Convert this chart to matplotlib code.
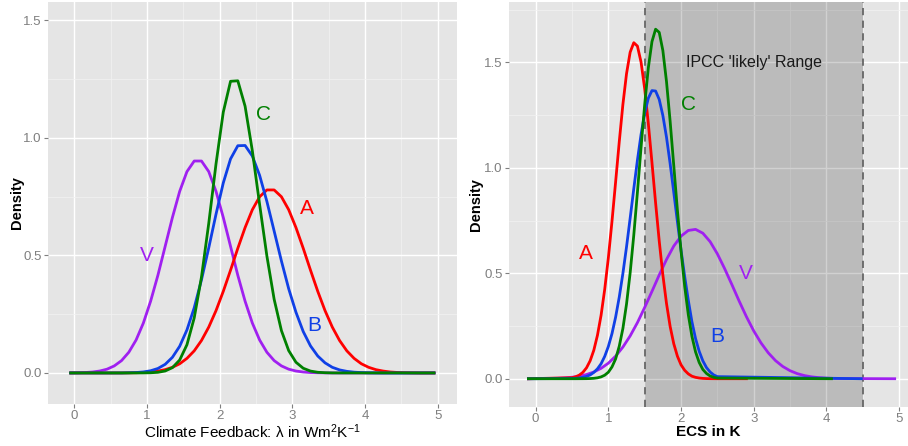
import numpy as np
import matplotlib
matplotlib.use("Agg")
import matplotlib.pyplot as plt
from matplotlib.ticker import MultipleLocator

plt.rcParams['font.family'] = ['Liberation Sans', 'DejaVu Sans']
plt.rcParams['mathtext.fontset'] = 'custom'
plt.rcParams['mathtext.rm'] = 'Liberation Sans'
plt.rcParams['mathtext.it'] = 'Liberation Sans:italic'

# ---- left panel: climate feedback lambda, density read at 0.1 steps ----
lam = [-0.05, 0.05, 0.15, 0.25, 0.35, 0.45, 0.55, 0.65, 0.75, 0.85,
       0.95, 1.05, 1.15, 1.25, 1.35, 1.45, 1.55, 1.65, 1.75, 1.85,
       1.95, 2.05, 2.15, 2.25, 2.35, 2.45, 2.55, 2.65, 2.75, 2.85,
       2.95, 3.05, 3.15, 3.25, 3.35, 3.45, 3.55, 3.65, 3.75, 3.85,
       3.95, 4.05, 4.15, 4.25, 4.35, 4.45, 4.55, 4.65, 4.75, 4.85, 4.95]

lam_A = [0, 0, 0, 0, 0, 0, 0, 0, 0.0005, 0.001,
         0.002, 0.004, 0.008, 0.014, 0.024, 0.039, 0.062, 0.094, 0.138, 0.195,
         0.265, 0.347, 0.437, 0.530, 0.618, 0.694, 0.749, 0.778, 0.778, 0.749,
         0.694, 0.618, 0.530, 0.437, 0.347, 0.265, 0.195, 0.138, 0.094, 0.062,
         0.039, 0.024, 0.014, 0.008, 0.004, 0.002, 0.001, 0.0005, 0, 0, 0]
lam_B = [0, 0, 0, 0, 0, 0, 0, 0, 0.0008, 0.0018,
         0.0043, 0.0093, 0.019, 0.0366, 0.0665, 0.1135, 0.183, 0.277, 0.396, 0.532,
         0.675, 0.808, 0.910, 0.966, 0.967, 0.922, 0.840, 0.729, 0.603, 0.476,
         0.358, 0.258, 0.176, 0.115, 0.072, 0.043, 0.024, 0.013, 0.0068, 0.0033,
         0.0016, 0.0007, 0.0003, 0, 0, 0, 0, 0, 0, 0, 0]
lam_C = [0, 0, 0, 0, 0, 0, 0, 0, 0, 0,
         0.0002, 0.0008, 0.0027, 0.0083, 0.0226, 0.055, 0.120, 0.234, 0.408, 0.636,
         0.889, 1.109, 1.240, 1.242, 1.134, 0.944, 0.716, 0.497, 0.313, 0.180,
         0.095, 0.0455, 0.020, 0.008, 0.0029, 0.001, 0.0002, 0, 0, 0,
         0, 0, 0, 0, 0, 0, 0, 0, 0, 0, 0]
lam_V = [0.0003, 0.0008, 0.0018, 0.004, 0.0082, 0.016, 0.030, 0.0525, 0.088, 0.140,
         0.212, 0.305, 0.415, 0.538, 0.661, 0.772, 0.856, 0.901, 0.901, 0.856,
         0.772, 0.661, 0.538, 0.415, 0.305, 0.212, 0.140, 0.088, 0.0525, 0.030,
         0.016, 0.0082, 0.004, 0.0018, 0.0008, 0.0003, 0, 0, 0, 0,
         0, 0, 0, 0, 0, 0, 0, 0, 0, 0, 0]

# ---- right panel: ECS densities ----
ecs = [0.50, 0.55, 0.60, 0.65, 0.70, 0.75, 0.80, 0.85, 0.90, 0.95,
       1.00, 1.05, 1.10, 1.15, 1.20, 1.25, 1.30, 1.35, 1.40, 1.45,
       1.50, 1.55, 1.60, 1.65, 1.70, 1.75, 1.80, 1.85, 1.90, 1.95,
       2.00, 2.05, 2.10, 2.15, 2.20, 2.25, 2.30, 2.35, 2.40, 2.45, 2.50]
ecs_A = [0.0048, 0.0093, 0.0171, 0.0304, 0.052, 0.0855, 0.135, 0.206, 0.301, 0.424,
         0.573, 0.746, 0.933, 1.123, 1.300, 1.446, 1.548, 1.593, 1.577, 1.501,
         1.375, 1.210, 1.025, 0.834, 0.653, 0.492, 0.357, 0.248, 0.166, 0.107,
         0.066, 0.040, 0.023, 0.012, 0.0066, 0.0034, 0.0016, 0.0007, 0.0003, 0.0001, 0]
ecs_B = [0.0011, 0.002, 0.0037, 0.0065, 0.011, 0.018, 0.030, 0.047, 0.071, 0.106,
         0.153, 0.214, 0.292, 0.387, 0.499, 0.625, 0.761, 0.901, 1.036, 1.158,
         1.259, 1.330, 1.366, 1.364, 1.324, 1.248, 1.145, 1.020, 0.884, 0.745,
         0.610, 0.485, 0.372, 0.270, 0.190, 0.130, 0.085, 0.053, 0.032, 0.018, 0.010]
ecs_C = [0, 0, 0.0001, 0.0002, 0.0004, 0.0009, 0.002, 0.0043, 0.0087, 0.0168,
         0.031, 0.056, 0.094, 0.154, 0.238, 0.354, 0.502, 0.681, 0.884, 1.096,
         1.300, 1.474, 1.598, 1.657, 1.642, 1.556, 1.409, 1.221, 1.011, 0.800,
         0.606, 0.439, 0.304, 0.201, 0.127, 0.077, 0.044, 0.025, 0.013, 0.0066, 0.0032]

ecs_v = [0.3, 0.4, 0.5, 0.6, 0.7, 0.8, 0.9, 1.0, 1.1, 1.2,
         1.3, 1.4, 1.5, 1.6, 1.7, 1.8, 1.9, 2.0, 2.1, 2.2,
         2.3, 2.4, 2.5, 2.6, 2.7, 2.8, 2.9, 3.0, 3.1, 3.2,
         3.3, 3.4, 3.5, 3.6, 3.7, 3.8, 3.9, 4.0, 4.1, 4.2]
ecs_V = [0.0022, 0.0040, 0.0071, 0.0120, 0.0199, 0.0319, 0.0493, 0.0738, 0.107, 0.150,
         0.203, 0.266, 0.338, 0.414, 0.492, 0.565, 0.629, 0.676, 0.703, 0.708,
         0.690, 0.650, 0.592, 0.522, 0.446, 0.368, 0.294, 0.227, 0.170, 0.123,
         0.0859, 0.0581, 0.0381, 0.0241, 0.0148, 0.0088, 0.0050, 0.0028, 0.0015, 0.0008]

# where each ECS density line starts / ends at zero
ecs_start = -0.1
ecs_end = {'A': 2.9, 'B': 4.48, 'C': 4.07, 'V': 4.94}

ipcc_range = (1.5, 4.5)

colors = {'A': '#ff0000', 'B': '#1040e6', 'C': '#008000', 'V': '#a020f0'}

# label positions
lab_left = {'A': (3.20, 0.70), 'B': (3.30, 0.20), 'C': (2.60, 1.10), 'V': (1.00, 0.50)}
lab_right = {'A': (0.69, 0.595), 'B': (2.50, 0.20), 'C': (2.10, 1.30), 'V': (2.89, 0.50)}


def style_ax(ax):
    ax.set_facecolor('#e5e5e5')
    for s in ax.spines.values():
        s.set_visible(False)
    ax.xaxis.set_major_locator(MultipleLocator(1))
    ax.xaxis.set_minor_locator(MultipleLocator(0.5))
    ax.yaxis.set_major_locator(MultipleLocator(0.5))
    ax.yaxis.set_minor_locator(MultipleLocator(0.25))
    ax.grid(which='major', color='white', lw=1.0)
    ax.grid(which='minor', color='#f2f2f2', lw=0.5)
    ax.set_axisbelow(True)
    ax.tick_params(which='major', length=3, width=0.8, color='#7f7f7f',
                   labelcolor='#7f7f7f', labelsize=9.5, pad=1.5)
    ax.tick_params(which='minor', length=0)
    ax.set_ylabel('Density', fontsize=10.5, fontweight='bold')
    ax.yaxis.label.set_va('center')
    ax.yaxis.set_major_formatter(matplotlib.ticker.FormatStrFormatter('%.1f'))
    ax.xaxis.set_major_formatter(matplotlib.ticker.FormatStrFormatter('%d'))


fig = plt.figure(figsize=(9.08, 4.46), dpi=100)
W, H = 908, 446
ax1 = fig.add_axes([48 / W, (H - 404) / H, 409 / W, 402 / H])
ax2 = fig.add_axes([509 / W, (H - 407) / H, 399 / W, 405 / H])

# left panel
style_ax(ax1)
for k, ys in [('V', lam_V), ('A', lam_A), ('B', lam_B), ('C', lam_C)]:
    ax1.plot(lam, ys, color=colors[k], lw=2.0, solid_joinstyle='round')
for k, (x, y) in lab_left.items():
    ax1.text(x, y, k, color=colors[k], fontsize=15, ha='center', va='center')
ax1.set_xlim(-0.362, 5.266)
ax1.set_ylim(-0.132, 1.577)
ax1.set_xlabel('Climate Feedback: λ in Wm$^2$K$^{-1}$', fontsize=11)
ax1.xaxis.set_label_coords(0.5, -0.069)
ax1.xaxis.label.set_va('center')
ax1.yaxis.set_label_coords(-0.0765, 0.5)

# right panel
style_ax(ax2)
ax2.axvspan(ipcc_range[0], ipcc_range[1], color='black', alpha=0.18, lw=0, zorder=1)
for xv in ipcc_range:
    ax2.axvline(xv, color='#666666', lw=1.3, ls=(0, (4, 3)), zorder=1.5)
series_r = [('V', ecs_v, ecs_V), ('A', ecs, ecs_A), ('B', ecs, ecs_B), ('C', ecs, ecs_C)]
for k, xs, ys in series_r:
    xx = [ecs_start] + list(xs) + [ecs_end[k]]
    yy = [0] + list(ys) + [0]
    ax2.plot(xx, yy, color=colors[k], lw=2.0, zorder=2)
for k, (x, y) in lab_right.items():
    ax2.text(x, y, k, color=colors[k], fontsize=15, ha='center', va='center', zorder=3)
ax2.text(3.0, 1.5, "IPCC 'likely' Range", fontsize=11.5, ha='center', va='center',
         color='#1a1a1a', zorder=3)
ax2.set_xlim(-0.367, 5.123)
ax2.set_ylim(-0.134, 1.786)
ax2.set_xlabel('ECS in K', fontsize=11, fontweight='bold')
ax2.xaxis.set_label_coords(0.5, -0.062)
ax2.xaxis.label.set_va('center')
ax2.yaxis.set_label_coords(-0.083, 0.5)

fig.savefig('out.png', dpi=100)
